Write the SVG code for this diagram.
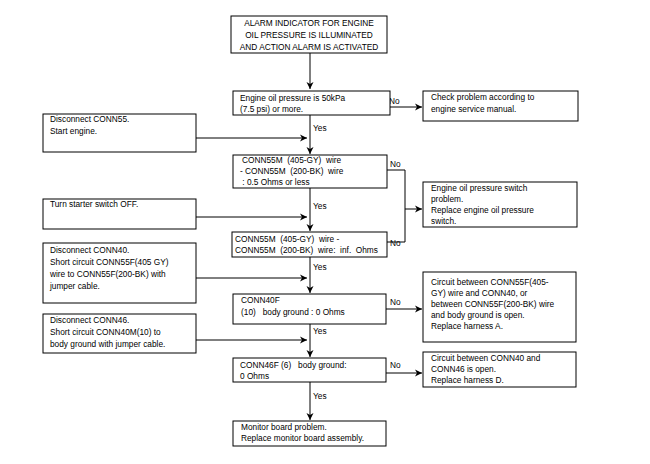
<svg xmlns="http://www.w3.org/2000/svg" width="650" height="464" viewBox="0 0 650 464">
<defs>
<marker id="ah" markerWidth="8" markerHeight="8" refX="7" refY="4" orient="auto" markerUnits="userSpaceOnUse">
<path d="M0,0.5 L7,4 L0,7.5 L2,4 Z" fill="#000"/>
</marker>
<style>
rect{fill:#fff;stroke:#000;stroke-width:1}
text{font-family:"Liberation Sans",Arial,sans-serif;font-size:8.3px;fill:#000;white-space:pre}
.c{text-anchor:middle}
.ln{fill:none;stroke:#000;stroke-width:1}
.ar{fill:none;stroke:#000;stroke-width:1;marker-end:url(#ah)}
</style>
</defs>
<rect x="0" y="0" width="650" height="464" style="fill:#fff;stroke:none"/>

<g id="connectors">
<path class="ar" d="M310,53 V89"/>
<path class="ar" d="M390,107 H422"/>
<path class="ln" d="M310,115 V138"/>
<path class="ar" d="M196,138 H307"/>
<path class="ar" d="M310,138 V154"/>
<path class="ln" d="M310,188 V217"/>
<path class="ar" d="M196,217 H307"/>
<path class="ar" d="M310,217 V231"/>
<path class="ln" d="M387,170 H405 V242 H387"/>
<path class="ar" d="M405,209 H422"/>
<path class="ln" d="M310,257 V278"/>
<path class="ar" d="M196,278 H307"/>
<path class="ar" d="M310,278 V293"/>
<path class="ar" d="M386,309 H422"/>
<path class="ln" d="M310,324 V340"/>
<path class="ar" d="M196,340 H307"/>
<path class="ar" d="M310,340 V357"/>
<path class="ar" d="M386,373 H422"/>
<path class="ar" d="M310,382 V420"/>
<text x="389" y="104">No</text>
<text x="313" y="131">Yes</text>
<text x="390" y="167">No</text>
<text x="313" y="209">Yes</text>
<text x="390" y="246">No</text>
<text x="313" y="270">Yes</text>
<text x="390" y="305">No</text>
<text x="313" y="334">Yes</text>
<text x="390" y="368">No</text>
<text x="313" y="399">Yes</text>
</g>

<g id="n_alarm">
<rect x="231" y="16" width="156" height="37"/>
<text class="c" x="309" y="26">ALARM INDICATOR FOR ENGINE</text>
<text class="c" x="309" y="38">OIL PRESSURE IS ILLUMINATED</text>
<text class="c" x="309" y="50">AND ACTION ALARM IS ACTIVATED</text>
</g>

<g id="n_pressure">
<rect x="233" y="91" width="157" height="24"/>
<text x="240" y="101">Engine oil pressure is 50kPa</text>
<text x="240" y="112">(7.5 psi) or more.</text>
</g>

<g id="n_check">
<rect x="423" y="91" width="155" height="30"/>
<text x="431" y="100">Check problem according to</text>
<text x="431" y="112">engine service manual.</text>
</g>

<g id="n_disc55">
<rect x="43" y="114" width="153" height="38"/>
<text x="50" y="122">Disconnect CONN55.</text>
<text x="50" y="134">Start engine.</text>
</g>

<g id="n_05ohm">
<rect x="233" y="155" width="154" height="33"/>
<text x="242" y="163">CONN55M  (405-GY)  wire</text>
<text x="240" y="174">- CONN55M  (200-BK)  wire</text>
<text x="240" y="185"> : 0.5 Ohms or less</text>
</g>

<g id="n_switch">
<rect x="423" y="182" width="154" height="45"/>
<text x="431" y="191">Engine oil pressure switch</text>
<text x="431" y="202">problem.</text>
<text x="431" y="213">Replace engine oil pressure</text>
<text x="431" y="224">switch.</text>
</g>

<g id="n_starter">
<rect x="43" y="199" width="153" height="30"/>
<text x="50" y="207">Turn starter switch OFF.</text>
</g>

<g id="n_inf">
<rect x="232" y="232" width="155" height="25"/>
<text x="235" y="242">CONN55M  (405-GY)  wire -</text>
<text x="235" y="253">CONN55M  (200-BK)  wire:  inf.  Ohms</text>
</g>

<g id="n_disc40">
<rect x="43" y="243" width="153" height="60"/>
<text x="50" y="253">Disconnect CONN40.</text>
<text x="50" y="265">Short circuit CONN55F(405 GY)</text>
<text x="50" y="277">wire to CONN55F(200-BK) with</text>
<text x="50" y="289">jumper cable.</text>
</g>

<g id="n_conn40f">
<rect x="233" y="294" width="153" height="30"/>
<text x="241" y="303">CONN40F</text>
<text x="241" y="315">(10)   body ground : 0 Ohms</text>
</g>

<g id="n_harnessA">
<rect x="423" y="272" width="153" height="70"/>
<text x="431" y="285">Circuit between CONN55F(405-</text>
<text x="431" y="296">GY) wire and CONN40, or</text>
<text x="431" y="307">between CONN55F(200-BK) wire</text>
<text x="431" y="318">and body ground is open.</text>
<text x="431" y="329">Replace harness A.</text>
</g>

<g id="n_disc46">
<rect x="43" y="314" width="153" height="39"/>
<text x="50" y="323">Disconnect CONN46.</text>
<text x="50" y="335">Short circuit CONN40M(10) to</text>
<text x="50" y="347">body ground with jumper cable.</text>
</g>

<g id="n_conn46f">
<rect x="233" y="358" width="153" height="24"/>
<text x="240" y="368">CONN46F (6)   body ground:</text>
<text x="240" y="379">0 Ohms</text>
</g>

<g id="n_harnessD">
<rect x="423" y="352" width="153" height="35"/>
<text x="431" y="361">Circuit between CONN40 and</text>
<text x="431" y="372">CONN46 is open.</text>
<text x="431" y="383">Replace harness D.</text>
</g>

<g id="n_monitor">
<rect x="233" y="421" width="153" height="25"/>
<text x="241" y="430">Monitor board problem.</text>
<text x="241" y="441">Replace monitor board assembly.</text>
</g>
</svg>
